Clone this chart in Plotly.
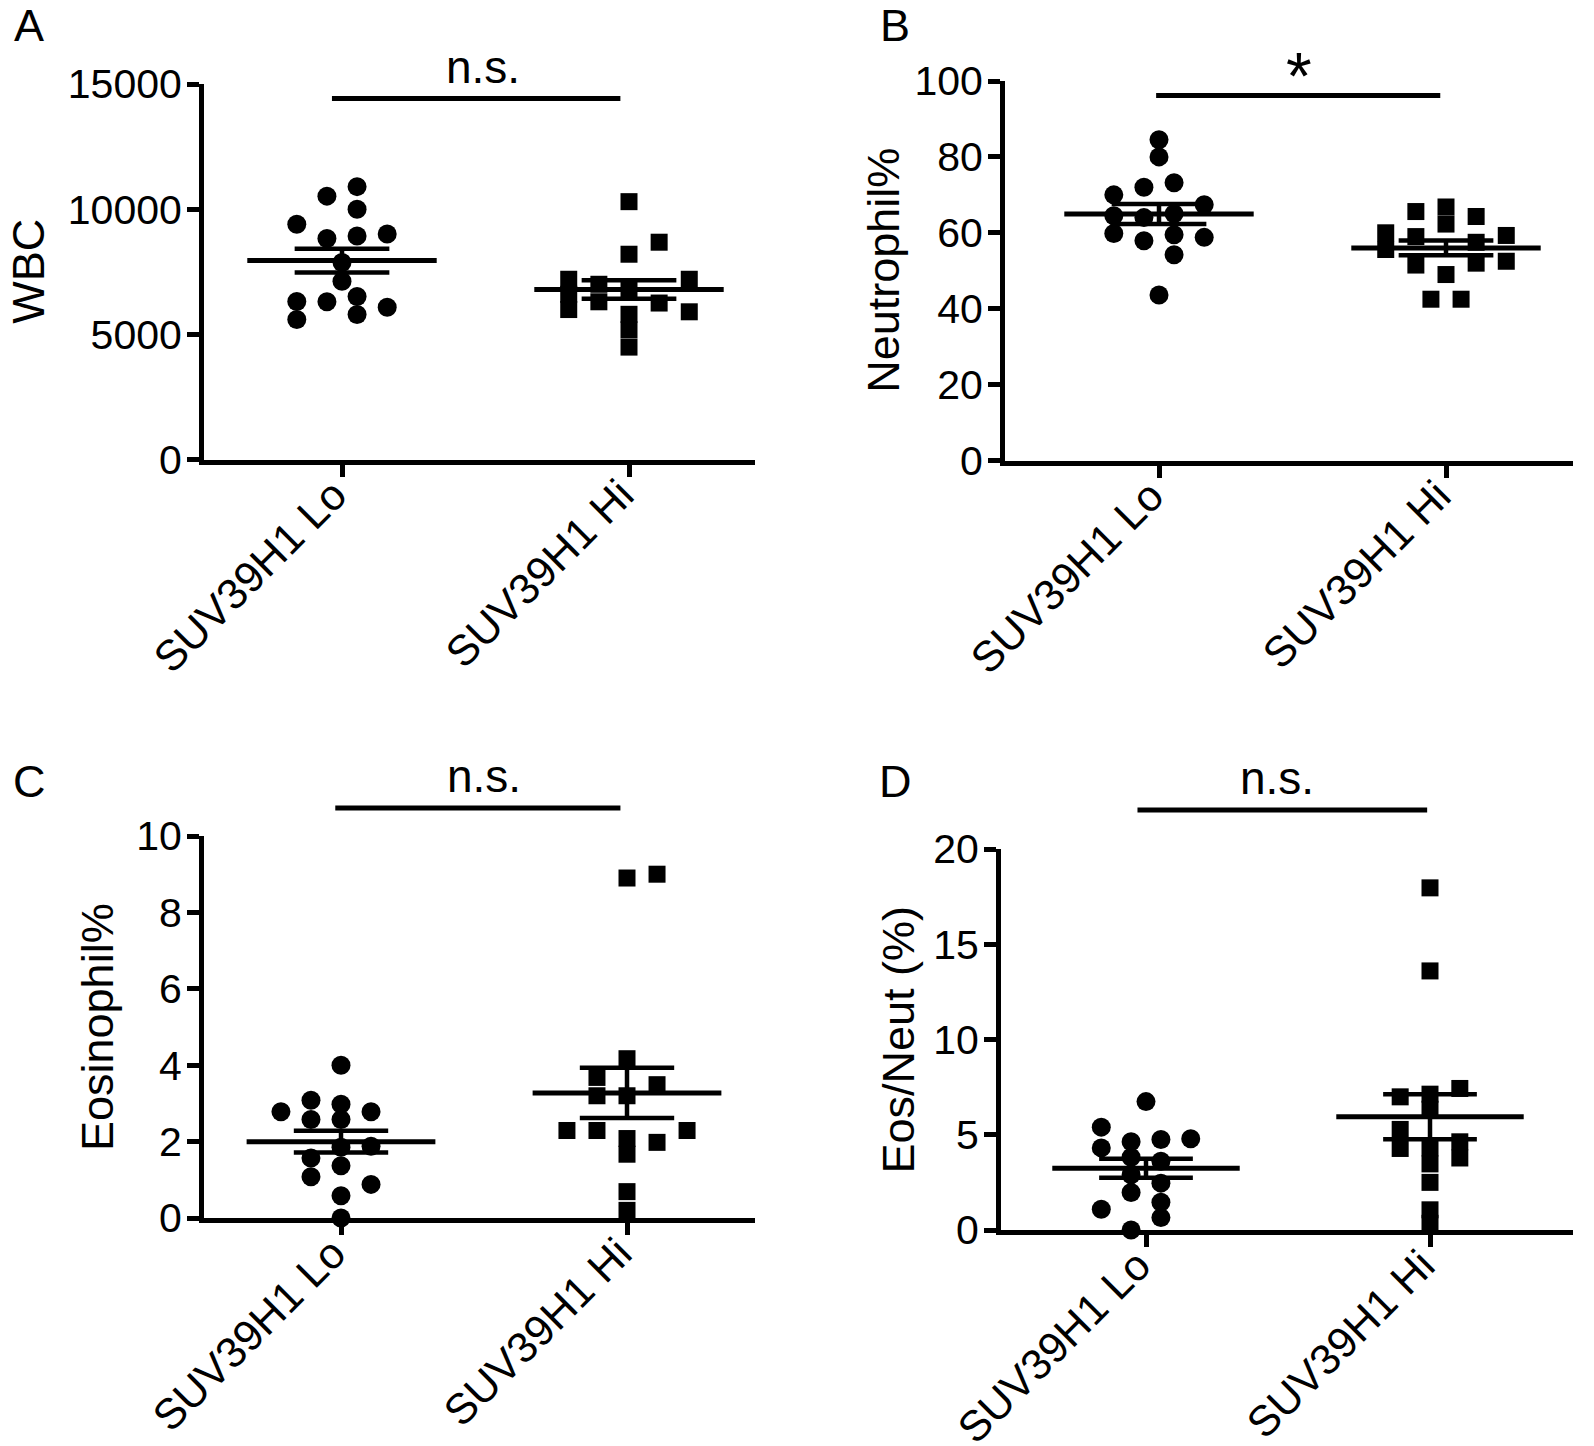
import numpy as np
import plotly.graph_objects as go

W, H = 1594, 1446
FONT = "Liberation Sans, Arial, Helvetica, sans-serif"

categories = ["SUV39H1 Lo", "SUV39H1 Hi"]

# ---- Panel A: WBC ----
wbc_lo = [10900, 10520, 10000, 9400, 8830, 8930, 9010, 7870, 7120, 6310, 6300, 6515, 6085, 5590, 5790]
wbc_lo_col = [0.5, -0.5, 0.5, -1.5, -0.5, 0.5, 1.5, 0, 0, -1.5, -0.5, 0.5, 1.5, -1.5, 0.5]
wbc_hi = [10300, 8680, 8200, 7200, 6600, 5990, 7000, 6300, 6800, 5800, 5180, 4490, 6250, 7200, 5900]
wbc_hi_col = [0, 1, 0, -2, -2, -2, -1, -1, 0, 0, 0, 0, 1, 2, 2]
wbc_ticks = [0, 5000, 10000, 15000]

# ---- Panel B: Neutrophil% ----
neu_lo = [84.5, 80.0, 73.2, 72.0, 70.0, 67.4, 64.5, 64.0, 65.0, 59.8, 57.9, 59.5, 58.8, 54.2, 43.6]
neu_lo_col = [0, 0, 0.5, -0.5, -1.5, 1.5, -1.5, -0.5, 0.5, -1.5, -0.5, 0.5, 1.5, 0.5, 0]
neu_hi = [65.6, 66.8, 64.3, 62.3, 60.0, 55.6, 59.0, 51.5, 49.0, 57.5, 52.0, 59.3, 52.5, 42.5, 42.5]
neu_hi_col = [-1, 0, 1, 0, -2, -2, -1, -1, 0, 1, 1, 2, 2, -0.5, 0.5]
neu_ticks = [0, 20, 40, 60, 80, 100]

# ---- Panel C: Eosinophil% ----
eos_lo = [4.0, 3.08, 2.98, 2.78, 2.78, 2.58, 2.58, 1.85, 1.88, 1.57, 1.37, 1.08, 0.88, 0.58, 0.0]
eos_lo_col = [0, -1, 0, -2, 1, -1, 0, 0, 1, -1, 0, -1, 1, 0, 0]
eos_hi = [8.9, 9.0, 4.17, 3.68, 3.49, 3.2, 3.2, 2.29, 2.29, 2.29, 1.98, 2.08, 1.67, 0.69, 0.2]
eos_hi_col = [0, 1, 0, -1, 1, -1, 0, -2, -1, 2, 1, 0, 0, 0, 0]
eos_ticks = [0, 2, 4, 6, 8, 10]

# ---- Panel D: Eos/Neut (%) ----
ratio_lo = [6.74, 5.40, 4.31, 4.63, 4.75, 4.79, 3.82, 3.61, 2.90, 2.46, 1.97, 1.46, 1.09, 0.65, 0.0]
ratio_lo_col = [0, -1.5, -1.5, -0.5, 0.5, 1.5, -0.5, 0.5, -0.5, 0.5, -0.5, 0.5, -1.5, 0.5, -0.5]
ratio_hi = [17.96, 13.6, 6.99, 7.13, 7.43, 6.34, 5.28, 4.28, 4.31, 4.63, 3.78, 3.47, 2.5, 1.06, 0.35]
ratio_hi_col = [0, 0, -1, 0, 1, 0, -1, -1, 0, 1, 1, 0, 0, 0, 0]
ratio_ticks = [0, 5, 10, 15, 20]

panels = [
    dict(letter="A", title="WBC", lo=wbc_lo, lo_col=wbc_lo_col, hi=wbc_hi, hi_col=wbc_hi_col,
         ymax=15000, ticks=wbc_ticks, sig="n.s.", bracket=14420, bx=(-0.035, 0.97), sx=0.49,
         ax=204, lo_px=342, hi_px=629, right=755, y0=459.5, y1=84,
         letter_pos=(29, 25), title_x=29),
    dict(letter="B", title="Neutrophil%", lo=neu_lo, lo_col=neu_lo_col, hi=neu_hi, hi_col=neu_hi_col,
         ymax=100, ticks=neu_ticks, sig="*", bracket=96.2, bx=(-0.01, 0.98), sx=0.487,
         ax=1005, lo_px=1159, hi_px=1446, right=1573, y0=460.5, y1=81,
         letter_pos=(895, 25), title_x=884),
    dict(letter="C", title="Eosinophil%", lo=eos_lo, lo_col=eos_lo_col, hi=eos_hi, hi_col=eos_hi_col,
         ymax=10, ticks=eos_ticks, sig="n.s.", bracket=10.73, bx=(-0.02, 0.977), sx=0.5,
         ax=204, lo_px=341, hi_px=627, right=755, y0=1218, y1=836,
         letter_pos=(30, 781), title_x=97),
    dict(letter="D", title="Eos/Neut (%)", lo=ratio_lo, lo_col=ratio_lo_col, hi=ratio_hi, hi_col=ratio_hi_col,
         ymax=20, ticks=ratio_ticks, sig="n.s.", bracket=22.05, bx=(-0.03, 0.99), sx=0.46,
         ax=1001, lo_px=1146, hi_px=1430, right=1573, y0=1230, y1=849,
         letter_pos=(895, 781), title_x=898),
]

COL = 0.105      # horizontal spacing of scatter columns (category units)
MEAN_HW = 0.33   # half-width of mean line
SEM_HW = 0.165   # half-width of SEM caps

fig = go.Figure()
annotations = []
shapes = []

def mean_sem(v):
    a = np.asarray(v, dtype=float)
    return a.mean(), a.std(ddof=1) / np.sqrt(len(a))

for i, p in enumerate(panels, start=1):
    xa = "x" if i == 1 else f"x{i}"
    ya = "y" if i == 1 else f"y{i}"
    groups = [(0, p["lo"], p["lo_col"], "circle", 19), (1, p["hi"], p["hi_col"], "square", 17)]
    for cx, vals, cols, sym, sz in groups:
        fig.add_trace(go.Scatter(
            x=[cx + c * COL for c in cols], y=vals, mode="markers",
            marker=dict(symbol=sym, size=sz, color="black", line=dict(width=0)),
            xaxis=xa, yaxis=ya, cliponaxis=False, showlegend=False, hoverinfo="y"))
    for cx, vals, cols, sym, sz in groups:
        m, s = mean_sem(vals)
        lines = [([cx - MEAN_HW, cx + MEAN_HW], [m, m], 5),
                 ([cx - SEM_HW, cx + SEM_HW], [m + s, m + s], 4.5),
                 ([cx - SEM_HW, cx + SEM_HW], [m - s, m - s], 4.5),
                 ([cx, cx], [m - s, m + s], 4.5)]
        for lx, ly, lw in lines:
            fig.add_trace(go.Scatter(x=lx, y=ly, mode="lines", line=dict(color="black", width=lw),
                                     xaxis=xa, yaxis=ya, cliponaxis=False, showlegend=False,
                                     hoverinfo="skip"))

    span = p["hi_px"] - p["lo_px"]
    xr = [(p["ax"] - p["lo_px"]) / span, (p["right"] - p["lo_px"]) / span]
    xdom = [p["ax"] / W, p["right"] / W]
    ydom = [1 - p["y0"] / H, 1 - p["y1"] / H]
    axis_common = dict(showline=True, linewidth=5, linecolor="black", showgrid=False, zeroline=False,
                       ticks="outside", ticklen=12, tickwidth=4.5, tickcolor="black", automargin=False)
    fig.update_layout(**{
        ("xaxis" if i == 1 else f"xaxis{i}"): dict(
            domain=xdom, range=xr, anchor=ya,
            tickmode="array", tickvals=[0, 1], ticktext=categories, tickangle=-45,
            ticklabelstandoff=-24, ticklabelshift=-8,
            tickfont=dict(family=FONT, size=43, color="black"), **axis_common),
        ("yaxis" if i == 1 else f"yaxis{i}"): dict(
            domain=ydom, range=[0, p["ymax"]], anchor=xa,
            tickmode="array", tickvals=p["ticks"], ticktext=[str(t) for t in p["ticks"]],
            ticklabelstandoff=-3,
            tickfont=dict(family=FONT, size=41, color="black"), **axis_common),
    })

    # data -> paper conversion through the subplot's own scales (for marks above the axis range)
    def to_px(xv, yv):
        px = xdom[0] + (xv - xr[0]) / (xr[1] - xr[0]) * (xdom[1] - xdom[0])
        py = ydom[0] + yv / p["ymax"] * (ydom[1] - ydom[0])
        return px, py

    bx0, by = to_px(p["bx"][0], p["bracket"])
    bx1, _ = to_px(p["bx"][1], p["bracket"])
    shapes.append(dict(type="line", xref="paper", yref="paper", x0=bx0, x1=bx1,
                       y0=by, y1=by, line=dict(color="black", width=5)))
    sx, _ = to_px(p["sx"], p["bracket"])
    annotations.append(dict(text=p["sig"], xref="paper", yref="paper", x=sx, y=by,
                            yanchor="bottom", xanchor="center", showarrow=False,
                            yshift=-20 if p["sig"] == "*" else 4,
                            font=dict(family=FONT, size=66 if p["sig"] == "*" else 46, color="black")))
    lx, ly = p["letter_pos"]
    annotations.append(dict(text=p["letter"], xref="paper", yref="paper", x=lx / W, y=1 - ly / H,
                            xanchor="center", yanchor="middle", showarrow=False,
                            font=dict(family=FONT, size=45, color="black")))
    annotations.append(dict(text=p["title"], xref="paper", yref="paper", x=p["title_x"] / W,
                            y=1 - (p["y0"] + p["y1"]) / 2 / H, textangle=-90,
                            xanchor="center", yanchor="middle", showarrow=False,
                            font=dict(family=FONT, size=45, color="black")))

fig.update_layout(width=W, height=H, margin=dict(l=0, r=0, t=0, b=0), template="none",
                  plot_bgcolor="white", paper_bgcolor="white",
                  annotations=annotations, shapes=shapes,
                  font=dict(family=FONT, color="black"))

fig.write_html("out.html", config={"displayModeBar": False},
               post_script="document.body.style.margin='0px';")
